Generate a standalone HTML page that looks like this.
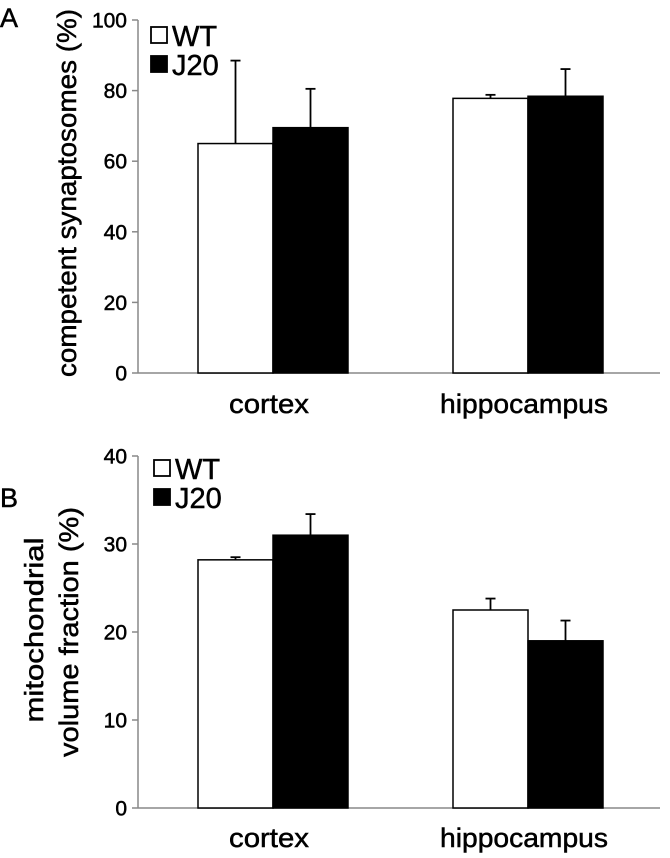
<!DOCTYPE html>
<html><head><meta charset="utf-8"><style>
body{margin:0;background:#fff;}
svg text{font-family:"Liberation Sans",Arial,sans-serif;fill:#000;stroke:#000;stroke-width:0.5;}
</style></head><body>
<svg id="chart" width="670" height="853" xmlns="http://www.w3.org/2000/svg"></svg>
<script>
const categories = ["cortex","hippocampus"];
const aWT = [65, 77.8];
const aWTerr = [23.5, 1];
const aJ20 = [69.5, 78.4];
const aJ20err = [11, 7.7];
const aTicks = [0,20,40,60,80,100];
const bWT = [28.2, 22.5];
const bWTerr = [0.3, 1.3];
const bJ20 = [31, 19];
const bJ20err = [2.4, 2.3];
const bTicks = [0,10,20,30,40];

const svg=document.getElementById('chart');
const NS='http://www.w3.org/2000/svg';
function mk(tag,attrs,name,txt){const e=document.createElementNS(NS,tag);for(const k in attrs)e.setAttribute(k,attrs[k]);


if(txt!==undefined)e.textContent=txt;svg.appendChild(e);return e;}

function panel(p){
  const y=v=>p.y0-(v/p.max)*(p.y0-p.yTop);
  const cat=i=>273+255*i;
  mk('line',{x1:p.x0,y1:p.yTop,x2:p.x0,y2:p.y0,stroke:'#888','stroke-width':1.5},p.id+'-y-axis');
  mk('line',{x1:p.x0,y1:p.y0,x2:p.x1,y2:p.y0,stroke:'#888','stroke-width':1.5},p.id+'-x-axis');
  p.ticks.forEach(t=>{
    mk('line',{x1:p.x0-6,y1:y(t),x2:p.x0,y2:y(t),stroke:'#888','stroke-width':1.5},p.id+'-y-tick');
    mk('text',{x:p.x0-11,y:y(t)+7.5,'text-anchor':'end','font-size':21},p.id+'-y-tick-label',t);
  });
  const bw=75;
  categories.forEach((c,i)=>{
    const cx=cat(i);
    [[p.wt,p.wtErr,'#fff','wt'],[p.j20,p.j20Err,'#000','j20']].forEach((s,k)=>{
      const x=k===0?cx-bw:cx;
      const top=y(s[0][i]), et=y(s[0][i]+s[1][i]);
      const ex=x+bw/2;
      mk('line',{x1:ex,y1:top,x2:ex,y2:et,stroke:'#000','stroke-width':1.8},p.id+'-errorbar-'+s[3]+'-'+c);
      mk('line',{x1:ex-5,y1:et,x2:ex+5,y2:et,stroke:'#000','stroke-width':1.8},p.id+'-errorcap-'+s[3]+'-'+c);
      mk('rect',{x:x,y:top,width:bw,height:p.y0-top,fill:s[2],stroke:'#000','stroke-width':1.5},p.id+'-bar-'+s[3]+'-'+c);
    });
    const tl = i===0?80:168;
    mk('text',{x:cx-4,y:p.ly0,'text-anchor':'middle','font-size':27,textLength:tl,lengthAdjust:'spacingAndGlyphs'},p.id+'-x-label-'+c,c);
  });
  mk('rect',{x:p.lx,y:p.ly,width:16,height:16,fill:'#fff',stroke:'#000','stroke-width':1.8},p.id+'-legend-wt-swatch');
  mk('text',{x:p.lx+21,y:p.ly+19,'font-size':29},p.id+'-legend-wt-label','WT');
  mk('rect',{x:p.lx,y:p.ly+29,width:16,height:16,fill:'#000',stroke:'#000','stroke-width':1.8},p.id+'-legend-j20-swatch');
  mk('text',{x:p.lx+21,y:p.ly+48,'font-size':29},p.id+'-legend-j20-label','J20');
}
panel({id:'a',x0:138,x1:660,y0:373,yTop:20,max:100,ticks:aTicks,wt:aWT,wtErr:aWTerr,j20:aJ20,j20Err:aJ20err,lx:151,ly:27,ly0:413});
panel({id:'b',x0:138,x1:660,y0:808,yTop:456,max:40,ticks:bTicks,wt:bWT,wtErr:bWTerr,j20:bJ20,j20Err:bJ20err,lx:154,ly:460,ly0:847});
mk('text',{x:0,y:27,'font-size':27},'panel-a-label','A');
mk('text',{x:0,y:507,'font-size':27},'panel-b-label','B');
mk('text',{x:76,y:193,'text-anchor':'middle','font-size':27,textLength:368,lengthAdjust:'spacingAndGlyphs',transform:'rotate(-90 76 193)'},'a-y-axis-title','competent synaptosomes (%)');
mk('text',{x:43,y:630,'text-anchor':'middle','font-size':26,textLength:185,lengthAdjust:'spacingAndGlyphs',transform:'rotate(-90 43 630)'},'b-y-axis-title-line1','mitochondrial');
mk('text',{x:78,y:632,'text-anchor':'middle','font-size':27,textLength:250,lengthAdjust:'spacingAndGlyphs',transform:'rotate(-90 78 632)'},'b-y-axis-title-line2','volume fraction (%)');
</script>
</body></html>
